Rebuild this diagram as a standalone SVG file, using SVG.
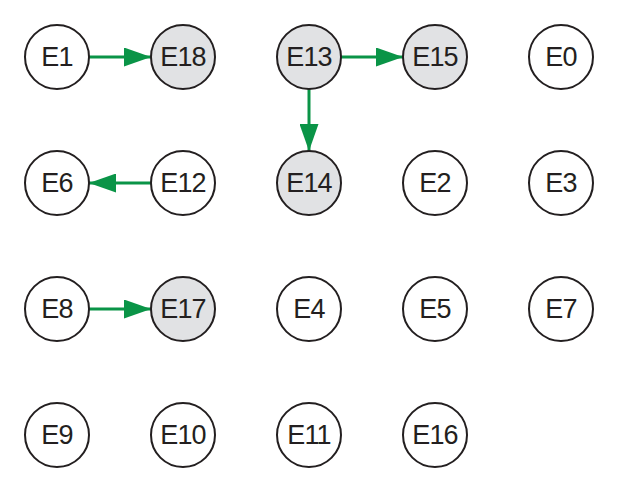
<svg xmlns="http://www.w3.org/2000/svg" width="617" height="490" viewBox="0 0 617 490">
<style>
.n circle{fill:#ffffff;stroke:#231f20;stroke-width:2}
.n.g circle{fill:#e1e2e4}
.n text{font-family:"Liberation Sans",Arial,sans-serif;font-size:27px;letter-spacing:-0.8px;fill:#231f20;text-anchor:middle;dominant-baseline:central}
.e line{stroke:#0a9447;stroke-width:3}
</style>
<defs>
<marker id="ah" markerUnits="userSpaceOnUse" markerWidth="27" markerHeight="19" refX="27" refY="9.5" orient="auto">
<path d="M0,0 L27,9.5 L0,19 Z" fill="#0a9447"/>
</marker>
</defs>
<rect width="617" height="490" fill="#ffffff"/>
<g id="connectors" class="e">
<line x1="89" y1="57" x2="151" y2="57" marker-end="url(#ah)"/>
<line x1="341" y1="57" x2="403" y2="57" marker-end="url(#ah)"/>
<line x1="309" y1="89" x2="309" y2="151" marker-end="url(#ah)"/>
<line x1="151" y1="183" x2="89" y2="183" marker-end="url(#ah)"/>
<line x1="89" y1="309" x2="151" y2="309" marker-end="url(#ah)"/>
</g>
<g id="E1" class="n"><circle cx="57" cy="57" r="32"/><text x="57" y="57">E1</text></g>
<g id="E18" class="n g"><circle cx="183" cy="57" r="32"/><text x="183" y="57">E18</text></g>
<g id="E13" class="n g"><circle cx="309" cy="57" r="32"/><text x="309" y="57">E13</text></g>
<g id="E15" class="n g"><circle cx="435" cy="57" r="32"/><text x="435" y="57">E15</text></g>
<g id="E0" class="n"><circle cx="561" cy="57" r="32"/><text x="561" y="57">E0</text></g>
<g id="E6" class="n"><circle cx="57" cy="183" r="32"/><text x="57" y="183">E6</text></g>
<g id="E12" class="n"><circle cx="183" cy="183" r="32"/><text x="183" y="183">E12</text></g>
<g id="E14" class="n g"><circle cx="309" cy="183" r="32"/><text x="309" y="183">E14</text></g>
<g id="E2" class="n"><circle cx="435" cy="183" r="32"/><text x="435" y="183">E2</text></g>
<g id="E3" class="n"><circle cx="561" cy="183" r="32"/><text x="561" y="183">E3</text></g>
<g id="E8" class="n"><circle cx="57" cy="309" r="32"/><text x="57" y="309">E8</text></g>
<g id="E17" class="n g"><circle cx="183" cy="309" r="32"/><text x="183" y="309">E17</text></g>
<g id="E4" class="n"><circle cx="309" cy="309" r="32"/><text x="309" y="309">E4</text></g>
<g id="E5" class="n"><circle cx="435" cy="309" r="32"/><text x="435" y="309">E5</text></g>
<g id="E7" class="n"><circle cx="561" cy="309" r="32"/><text x="561" y="309">E7</text></g>
<g id="E9" class="n"><circle cx="57" cy="435" r="32"/><text x="57" y="435">E9</text></g>
<g id="E10" class="n"><circle cx="183" cy="435" r="32"/><text x="183" y="435">E10</text></g>
<g id="E11" class="n"><circle cx="309" cy="435" r="32"/><text x="309" y="435">E11</text></g>
<g id="E16" class="n"><circle cx="435" cy="435" r="32"/><text x="435" y="435">E16</text></g>
</svg>
